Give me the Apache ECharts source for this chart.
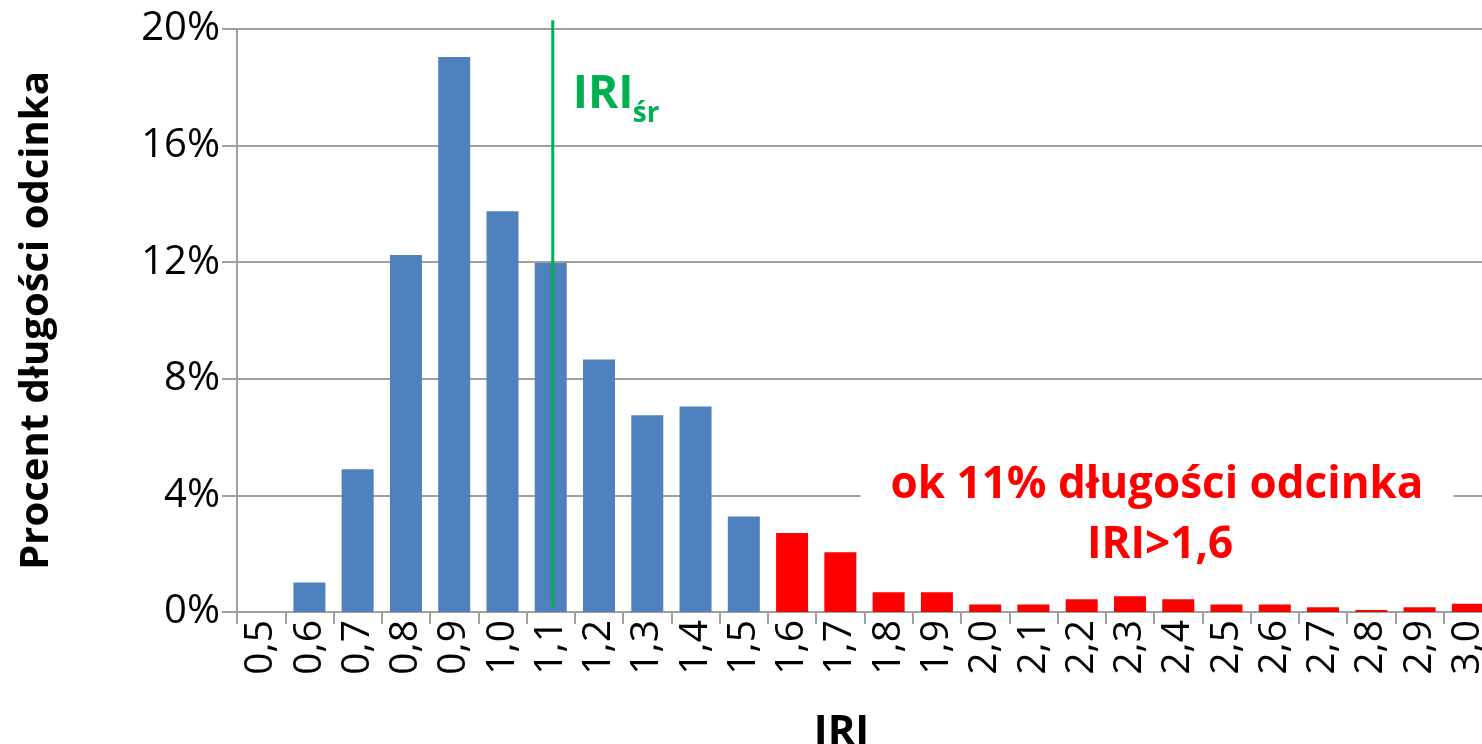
<!DOCTYPE html>
<html>
<head>
<meta charset="utf-8">
<script src="https://cdn.jsdelivr.net/npm/echarts@6/dist/echarts.min.js"></script>
<style>
  html, body { margin: 0; padding: 0; background: #fff; }
  #chart { width: 1482px; height: 744px; }
</style>
</head>
<body>
<div id="chart"></div>
<script>
// IRI classes (m/km) and share of section length in each class (%)
const iriClasses = ['0,5','0,6','0,7','0,8','0,9','1,0','1,1','1,2','1,3','1,4','1,5','1,6','1,7',
                    '1,8','1,9','2,0','2,1','2,2','2,3','2,4','2,5','2,6','2,7','2,8','2,9','3,0'];
const lengthShare = [0, 1.01, 4.9, 12.25, 19.04, 13.75, 11.97, 8.66, 6.75, 7.05, 3.28, 2.71, 2.05,
                     0.68, 0.68, 0.26, 0.26, 0.44, 0.54, 0.44, 0.26, 0.26, 0.16, 0.07, 0.16, 0.28];
const yTicks = { min: 0, max: 20, interval: 4 };
const meanIRI = '1,1';        // average IRI of the section
const limitIRI = '1,6';       // classes from here on are above the limit
const meanLineSpan = [0.17, 20.3];   // vertical extent of the mean line, in % units

const BLUE = '#4F81BD';
const RED = '#FF0000';
const GREEN = '#00B050';
const GRID = '#A0A0A0';
const FONT = '"Open Sans", "Noto Sans", sans-serif';

const limitIndex = iriClasses.indexOf(limitIRI);

const chart = echarts.init(document.getElementById('chart'), null, { renderer: 'canvas' });

chart.setOption({
  animation: false,
  backgroundColor: '#fff',
  grid: { left: 237, right: -10, top: 29, bottom: 132, containLabel: false, outerBoundsMode: 'none' },
  xAxis: {
    type: 'category',
    data: iriClasses,
    boundaryGap: true,
    name: 'IRI',
    nameLocation: 'middle',
    nameGap: 100,
    nameTextStyle: { fontFamily: FONT, fontWeight: 'bold', fontSize: 42, color: '#000', padding: [0, 46, 0, 0] },
    axisLine: { lineStyle: { color: GRID, width: 2 } },
    axisTick: { show: true, length: 12, lineStyle: { color: GRID, width: 2 } },
    axisLabel: { rotate: 90, margin: 8, fontFamily: FONT, fontSize: 39, color: '#000', interval: 0 },
    splitLine: { show: false }
  },
  yAxis: {
    type: 'value',
    min: yTicks.min, max: yTicks.max, interval: yTicks.interval,
    name: 'Procent długości odcinka',
    nameLocation: 'middle',
    nameRotate: 90,
    nameGap: 180,
    nameTextStyle: { fontFamily: FONT, fontWeight: 'bold', fontSize: 40, color: '#000' },
    axisLine: { show: true, lineStyle: { color: GRID, width: 2 } },
    axisTick: { show: true, length: 15, lineStyle: { color: GRID, width: 2 } },
    axisLabel: { formatter: '{value}%', margin: 17, fontFamily: FONT, fontSize: 40, color: '#000' },
    splitLine: { show: true, lineStyle: { color: GRID, width: 2 } }
  },
  series: [{
    type: 'bar',
    data: lengthShare,
    barWidth: 32,
    itemStyle: {
      color: (p) => p.dataIndex >= limitIndex ? RED : BLUE
    }
  }]
});

// Mean IRI line and the annotations, placed through the chart's own scales
const lineBottom = chart.convertToPixel({ seriesIndex: 0 }, [meanIRI, meanLineSpan[0]]);
const lineTop = chart.convertToPixel({ seriesIndex: 0 }, [meanIRI, meanLineSpan[1]]);

chart.setOption({
  graphic: [
    {
      type: 'line', z: 5,
      shape: { x1: lineBottom[0] + 2, y1: lineBottom[1], x2: lineTop[0] + 2, y2: lineTop[1] },
      style: { stroke: GREEN, lineWidth: 3 }
    },
    {
      type: 'text', z: 10, x: lineBottom[0] + 22, y: 72,
      style: { text: 'IRI', fontFamily: FONT, fontWeight: 'bold', fontSize: 46, fill: GREEN }
    },
    {
      type: 'text', z: 10, x: lineBottom[0] + 82, y: 100,
      style: { text: 'śr', fontFamily: FONT, fontWeight: 'bold', fontSize: 28, fill: GREEN }
    },
    {
      type: 'text', z: 10, x: 1157, y: 463,
      style: {
        text: 'ok 11% długości odcinka',
        align: 'center', textAlign: 'center', verticalAlign: 'top',
        fontFamily: FONT, fontWeight: 'bold', fontSize: 44,
        fill: RED, backgroundColor: '#fff', padding: [0, 30, 0, 30]
      }
    },
    {
      type: 'text', z: 10, x: 1160, y: 523,
      style: {
        text: 'IRI>1,6',
        align: 'center', textAlign: 'center', verticalAlign: 'top',
        fontFamily: FONT, fontWeight: 'bold', fontSize: 44,
        fill: RED
      }
    }
  ]
});
</script>
</body>
</html>
